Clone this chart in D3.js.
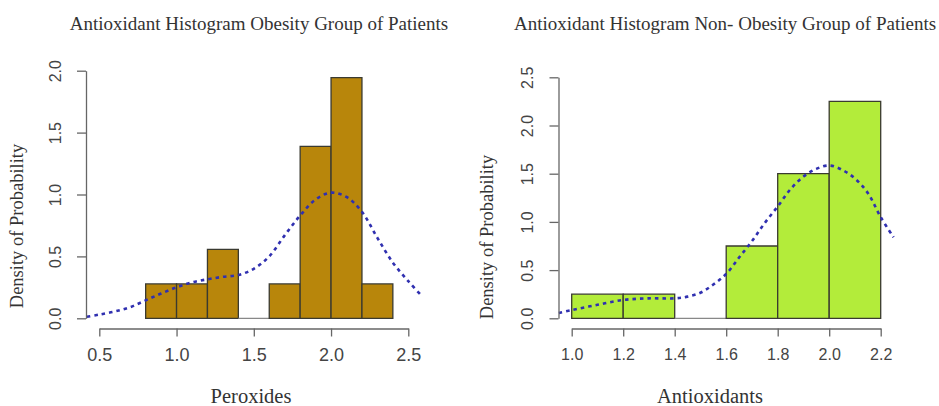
<!DOCTYPE html>
<html>
<head>
<meta charset="utf-8">
<script src="https://cdn.jsdelivr.net/npm/d3@7/dist/d3.min.js"></script>
<style>
html,body{margin:0;padding:0;background:#fff;}
svg{display:block;}
</style>
</head>
<body>
<svg id="chart" width="939" height="406"></svg>
<script>
// ---------- data ----------
const obesityBreaks = [0.8, 1.0, 1.2, 1.4, 1.6, 1.8, 2.0, 2.2, 2.4];
const obesityDensity = [0.278, 0.278, 0.556, 0, 0.278, 1.389, 1.944, 0.278];
const obesityCurveX = [0.42, 0.5, 0.6, 0.7, 0.8, 0.9, 1.0, 1.1, 1.2, 1.3, 1.4, 1.5, 1.6, 1.7, 1.8, 1.9, 2.0, 2.1, 2.2, 2.3, 2.4, 2.5, 2.58];
const obesityCurveY = [0.012, 0.03, 0.055, 0.09, 0.145, 0.2, 0.25, 0.29, 0.315, 0.335, 0.35, 0.4, 0.5, 0.67, 0.83, 0.96, 1.015, 0.98, 0.86, 0.65, 0.45, 0.3, 0.19];
const obesityXTicks = [0.5, 1.0, 1.5, 2.0, 2.5];
const obesityYTicks = [0.0, 0.5, 1.0, 1.5, 2.0];

const nonBreaks = [1.0, 1.2, 1.4, 1.6, 1.8, 2.0, 2.2];
const nonDensity = [0.25, 0.25, 0, 0.75, 1.5, 2.25];
const nonCurveX = [0.95, 1.0, 1.1, 1.2, 1.3, 1.4, 1.45, 1.5, 1.55, 1.6, 1.65, 1.7, 1.75, 1.8, 1.85, 1.9, 1.95, 2.0, 2.05, 2.1, 2.15, 2.2, 2.25];
const nonCurveY = [0.055, 0.085, 0.14, 0.19, 0.207, 0.207, 0.225, 0.265, 0.35, 0.46, 0.63, 0.8, 0.99, 1.16, 1.34, 1.47, 1.55, 1.585, 1.54, 1.45, 1.3, 1.05, 0.84];
const nonXTicks = [1.0, 1.2, 1.4, 1.6, 1.8, 2.0, 2.2];
const nonYTicks = [0.0, 0.5, 1.0, 1.5, 2.0, 2.5];

const titles = ["Antioxidant Histogram Obesity Group of Patients", "Antioxidant Histogram Non- Obesity Group of Patients"];
const xTitles = ["Peroxides", "Antioxidants"];
const yTitle = "Density of Probability";

// ---------- drawing ----------
const svg = d3.select("#chart");
const serif = "'Liberation Serif','Times New Roman',serif";
const sans = "'Liberation Sans',Arial,Helvetica,sans-serif";

function panel(cfg) {
  const x = d3.scaleLinear().domain(cfg.xDomain).range(cfg.xRange);
  const y = d3.scaleLinear().domain(cfg.yDomain).range(cfg.yRange);
  const g = svg.append("g");

  // bars
  const bins = cfg.density.map((d, i) => ({x0: cfg.breaks[i], x1: cfg.breaks[i + 1], d}));
  g.selectAll("path.bar").data(bins).join("path")
    .attr("class", "bar")
    .attr("d", b => `M${x(b.x0)},${y(0)}V${y(b.d)}H${x(b.x1)}V${y(0)}Z`)
    .attr("fill", b => b.d > 0 ? cfg.fill : "none")
    .attr("stroke", b => b.d > 0 ? "#3a3a30" : "#888")
    .attr("stroke-width", 1.3);

  // density curve
  const pts = cfg.curveX.map((v, i) => [v, cfg.curveY[i]]);
  g.append("path")
    .datum(pts)
    .attr("d", d3.line().x(p => x(p[0])).y(p => y(p[1])).curve(d3.curveCatmullRom.alpha(0.5)))
    .attr("fill", "none")
    .attr("stroke", "#3030b0")
    .attr("stroke-width", 2.6)
    .attr("stroke-dasharray", "3.5,4");

  // x axis
  const xa = g.append("g").attr("transform", `translate(0,${cfg.xAxisY})`)
    .call(d3.axisBottom(x).tickValues(cfg.xTicks).tickSizeInner(8).tickSizeOuter(0).tickPadding(12).tickFormat(d3.format(".1f")));
  xa.selectAll("path,line").attr("stroke", "#666").attr("stroke-width", 1.3);
  xa.selectAll("text").attr("font-family", sans).attr("font-size", cfg.xTickSize).attr("fill", "#444");

  // y axis
  const ya = g.append("g").attr("transform", `translate(${cfg.yAxisX},0)`)
    .call(d3.axisLeft(y).tickValues(cfg.yTicks).tickSizeInner(9).tickSizeOuter(0).tickFormat(d3.format(".1f")));
  ya.selectAll("path,line").attr("stroke", "#666").attr("stroke-width", 1.3);
  ya.selectAll("text")
    .attr("font-family", sans).attr("font-size", 16).attr("fill", "#444")
    .attr("text-anchor", "middle").attr("dy", null).attr("x", null)
    .attr("dominant-baseline", "central")
    .attr("transform", d => `translate(${cfg.yLabelX - cfg.yAxisX},0) rotate(-90)`);

  // titles
  svg.append("text").attr("x", cfg.titleX).attr("y", 30)
    .attr("text-anchor", "middle").attr("font-family", serif).attr("font-size", 19)
    .attr("fill", "#333").text(cfg.title);
  svg.append("text").attr("x", cfg.xTitleX).attr("y", 403)
    .attr("text-anchor", "middle").attr("font-family", serif).attr("font-size", 20.5)
    .attr("fill", "#333").text(cfg.xTitle);
  svg.append("text")
    .attr("transform", `translate(${cfg.yTitleX},${cfg.yTitleY}) rotate(-90)`)
    .attr("text-anchor", "middle").attr("dominant-baseline", "central")
    .attr("font-family", serif).attr("font-size", 18.5)
    .attr("fill", "#333").text(yTitle);
}

panel({
  breaks: obesityBreaks, density: obesityDensity,
  curveX: obesityCurveX, curveY: obesityCurveY,
  xTicks: obesityXTicks, yTicks: obesityYTicks,
  xDomain: [0.5, 2.5], xRange: [99.3, 408.3],
  yDomain: [0, 2], yRange: [318.3, 70.7],
  xAxisY: 328.5, yAxisX: 86, yLabelX: 55, xTickSize: 18,
  fill: "#b8860b",
  title: titles[0], titleX: 259,
  xTitle: xTitles[0], xTitleX: 251,
  yTitleX: 17, yTitleY: 226
});

panel({
  breaks: nonBreaks, density: nonDensity,
  curveX: nonCurveX, curveY: nonCurveY,
  xTicks: nonXTicks, yTicks: nonYTicks,
  xDomain: [1.0, 2.2], xRange: [571.7, 880.7],
  yDomain: [0, 2.5], yRange: [318.3, 77.3],
  xAxisY: 328.5, yAxisX: 558.5, yLabelX: 527, xTickSize: 16,
  fill: "#b3ec3a",
  title: titles[1], titleX: 725,
  xTitle: xTitles[1], xTitleX: 710,
  yTitleX: 487, yTitleY: 237
});
</script>
</body>
</html>
